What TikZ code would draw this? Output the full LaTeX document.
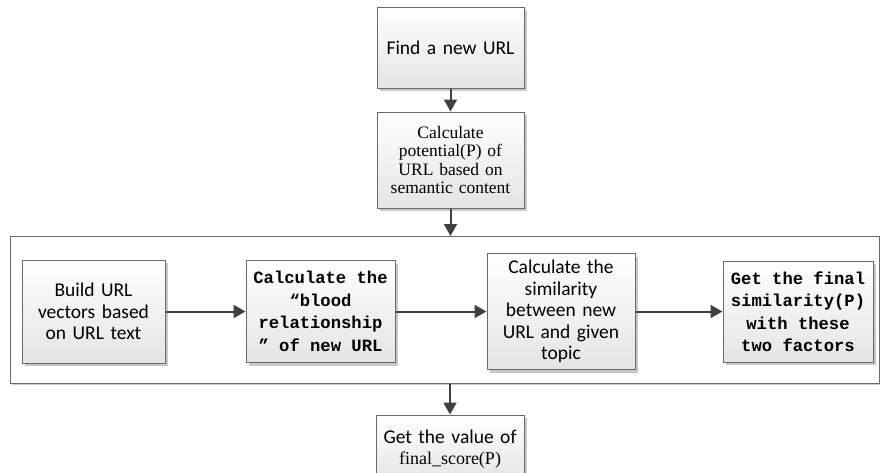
\documentclass[tikz,border=0pt]{standalone}
\usepackage{fontspec}
\setmainfont{Liberation Serif}
\setsansfont{Carlito}
\setmonofont{Liberation Mono}
\usetikzlibrary{arrows.meta,shadows}

\definecolor{boxline}{HTML}{6A6A6A}
\definecolor{boxfill}{HTML}{E4E4E4}
\definecolor{arrowline}{HTML}{404040}
\newcommand{\wordgap}{\spaceskip=0.6em\relax}

\begin{document}
\begin{tikzpicture}[x=1pt,y=-1pt,
    box/.style={draw=boxline,line width=1pt,top color=white,bottom color=boxfill,
        drop shadow={shadow xshift=3pt,shadow yshift=-3pt,fill=black!22,opacity=1},
        align=center,inner sep=2pt},
    stage/.style={draw=boxline,line width=1pt,fill=white,
        drop shadow={shadow xshift=1.5pt,shadow yshift=-1.5pt,fill=black!20,opacity=1}},
    sanstext/.style={font=\sffamily\fontsize{19.5}{21.5}\selectfont},
    seriftext/.style={font=\rmfamily\fontsize{17.5}{18.5}\selectfont},
    monotext/.style={font=\ttfamily\bfseries\fontsize{17.2}{22.5}\selectfont},
    flow/.style={draw=arrowline,line width=2pt,-{Triangle[length=12pt,width=13pt]}}]
    \pgfmathsetmacro{\rowy}{311.5}
    \useasboundingbox (0,0) rectangle (880,472);
    % top column
    \node[box,sanstext,minimum width=147pt,minimum height=81pt,text width=139pt] (find) at (450.5,47.5)
        {Find a new URL};
    \node[box,seriftext,minimum width=147pt,minimum height=96pt,text width=139pt] (potential) at (450.5,160)
        {Calculate\\potential(P) of\\URL based on\\semantic content};
    % the frame round the four steps
    \node[stage,minimum width=869pt,minimum height=147pt] (group) at (444.5,310) {};
    \node[box,sanstext,minimum width=143pt,minimum height=103pt,text width=135pt] (build) at (93.5,\rowy)
        {Build URL\\vectors based\\on URL text};
    \node[box,monotext,minimum width=149pt,minimum height=102pt,text width=141pt] (blood) at (320.5,\rowy)
        {\wordgap Calculate the\\“blood\\relationship\\” of new URL};
    \node[box,sanstext,minimum width=148pt,minimum height=116pt,text width=140pt] (similar) at (561,\rowy)
        {Calculate the\\similarity\\between new\\URL and given\\topic};
    \node[box,monotext,minimum width=150pt,minimum height=101pt,text width=142pt] (final) at (798,\rowy)
        {\wordgap Get the final\\similarity(P)\\with these\\two factors};
    % bottom
    \node[box,sanstext,minimum width=148pt,minimum height=68pt,text width=140pt] (value) at (450,449)
        {Get the value of\\\rmfamily\fontsize{18}{21.5}\selectfont final\_score(P)};
    \draw[flow] (find) -- (potential);
    \draw[flow] (potential) -- (potential |- group.north);
    \draw[flow] (build) -- (blood);
    \draw[flow] (blood) -- (similar);
    \draw[flow] (similar) -- (final);
    \draw[flow] (value |- group.south) -- (value);
\end{tikzpicture}
\end{document}
